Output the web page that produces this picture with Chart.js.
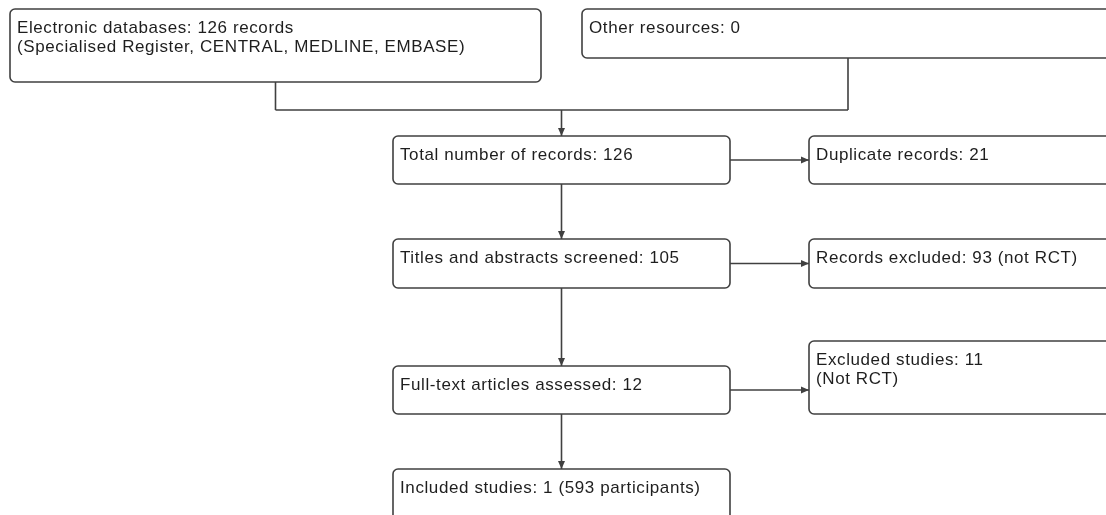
<!DOCTYPE html>
<html>
<head>
<meta charset="utf-8">
<title>Study flow diagram</title>
<script src="https://cdn.jsdelivr.net/npm/chart.js@4.4.1/dist/chart.umd.min.js"></script>
<style>
  html, body { margin: 0; padding: 0; background: #fff; }
  #wrap { width: 1106px; height: 515px; }
</style>
</head>
<body>
<div id="wrap"><canvas id="flowChart"></canvas></div>
<script>
// === Flow data ===
const stageNames = [
  "Electronic databases", "Other resources", "Total number of records",
  "Duplicate records", "Titles and abstracts screened", "Records excluded",
  "Full-text articles assessed", "Excluded studies", "Included studies"
];
const stageCounts = [126, 0, 126, 21, 105, 93, 12, 11, 1];
const stageSuffix = [" records", "", "", "", "", " (not RCT)", "", "", " (593 participants)"];
const stageNotes = ["(Specialised Register, CENTRAL, MEDLINE, EMBASE)", "", "", "", "", "", "", "(Not RCT)", ""];

// arrows: [from stage, to stage]
const flowLinks = [[2, 3], [2, 4], [4, 5], [4, 6], [6, 7], [6, 8]];
// the two sources merge into the total
const mergeSources = [0, 1];
const mergeTarget = 2;

// === Layout, in axis units (x 0..1106, y 0..515 top down) ===
const boxLeft   = [10, 582, 393, 809, 393, 809, 393, 809, 393];
const boxRight  = [541, 1114, 730, 1114, 730, 1114, 730, 1114, 730];
const boxTop    = [9, 9, 136, 136, 239, 239, 366, 341, 469];
const boxBottom = [82, 58, 184, 184, 288, 288, 414, 414, 530];
const mergeY = 110;

const lineColor = "#404040";
const textColor = "#1e1e1e";
const fontCss = '17px "Liberation Sans", Arial, sans-serif';

function arrow(ctx, x1, y1, x2, y2) {
  ctx.beginPath();
  ctx.moveTo(x1, y1);
  ctx.lineTo(x2, y2);
  ctx.stroke();
  const ang = Math.atan2(y2 - y1, x2 - x1);
  const len = 8, half = 3.5;
  ctx.beginPath();
  ctx.moveTo(x2, y2);
  ctx.lineTo(x2 - len * Math.cos(ang) + half * Math.sin(ang), y2 - len * Math.sin(ang) - half * Math.cos(ang));
  ctx.lineTo(x2 - len * Math.cos(ang) - half * Math.sin(ang), y2 - len * Math.sin(ang) + half * Math.cos(ang));
  ctx.closePath();
  ctx.fill();
}

function roundBox(ctx, x1, y1, x2, y2, r) {
  ctx.beginPath();
  ctx.moveTo(x1 + r, y1);
  ctx.arcTo(x2, y1, x2, y2, r);
  ctx.arcTo(x2, y2, x1, y2, r);
  ctx.arcTo(x1, y2, x1, y1, r);
  ctx.arcTo(x1, y1, x2, y1, r);
  ctx.closePath();
  ctx.fill();
  ctx.stroke();
}

const flowPlugin = {
  id: "flowBoxes",
  afterDatasetsDraw(chart) {
    const ctx = chart.ctx;
    const xs = chart.scales.x, ys = chart.scales.y;
    const px = v => xs.getPixelForValue(v);
    const py = v => ys.getPixelForValue(v);
    const cx = i => px((boxLeft[i] + boxRight[i]) / 2);
    const cy = i => py((boxTop[i] + boxBottom[i]) / 2);

    ctx.save();
    ctx.strokeStyle = lineColor;
    ctx.fillStyle = lineColor;
    ctx.lineWidth = 1.6;

    // merge connector
    ctx.beginPath();
    mergeSources.forEach(i => {
      ctx.moveTo(cx(i), py(boxBottom[i]));
      ctx.lineTo(cx(i), py(mergeY));
    });
    ctx.moveTo(cx(mergeSources[0]), py(mergeY));
    ctx.lineTo(cx(mergeSources[mergeSources.length - 1]), py(mergeY));
    ctx.stroke();
    arrow(ctx, cx(mergeTarget), py(mergeY), cx(mergeTarget), py(boxTop[mergeTarget]));

    // links
    flowLinks.forEach(([a, b]) => {
      if (boxLeft[b] > boxRight[a]) {
        arrow(ctx, px(boxRight[a]), cy(a), px(boxLeft[b]), cy(a));
      } else {
        arrow(ctx, cx(a), py(boxBottom[a]), cx(a), py(boxTop[b]));
      }
    });

    // boxes and text
    stageNames.forEach((name, i) => {
      ctx.fillStyle = "#fff";
      ctx.strokeStyle = lineColor;
      roundBox(ctx, px(boxLeft[i]), py(boxTop[i]), px(boxRight[i]), py(boxBottom[i]), 5);
      ctx.fillStyle = textColor;
      ctx.font = fontCss;
      ctx.letterSpacing = "0.6px";
      ctx.textBaseline = "alphabetic";
      ctx.textAlign = "left";
      const tx = px(boxLeft[i]) + 7;
      const ty = py(boxTop[i]) + 24;
      ctx.fillText(name + ": " + stageCounts[i] + stageSuffix[i], tx, ty);
      if (stageNotes[i]) ctx.fillText(stageNotes[i], tx, ty + 19);
    });
    ctx.restore();
  }
};

const ctx = document.getElementById("flowChart").getContext("2d");
const flowChart = new Chart(ctx, {
  type: "scatter",
  data: {
    datasets: [{
      label: "Records",
      data: stageCounts.map((c, i) => ({ x: (boxLeft[i] + boxRight[i]) / 2, y: (boxTop[i] + boxBottom[i]) / 2 })),
      pointRadius: 0
    }]
  },
  options: {
    responsive: true,
    maintainAspectRatio: false,
    animation: false,
    layout: { padding: 0 },
    plugins: { legend: { display: false }, tooltip: { enabled: false } },
    scales: {
      x: { type: "linear", min: 0, max: 1106, display: false },
      y: { type: "linear", min: 0, max: 515, reverse: true, display: false }
    }
  },
  plugins: [flowPlugin]
});
</script>
</body>
</html>
